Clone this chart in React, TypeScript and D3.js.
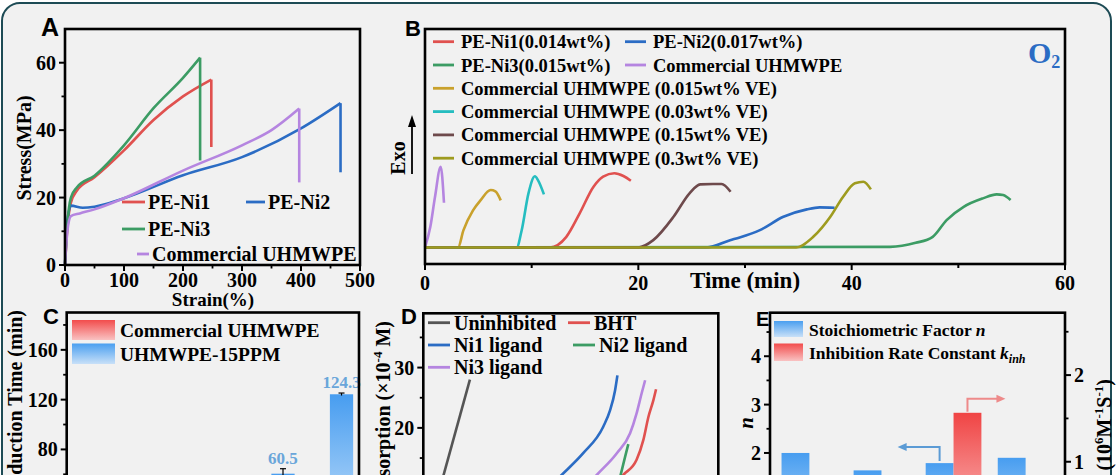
import * as d3 from "d3";

const SERIF = '"Liberation Serif", "Times New Roman", serif';
const SANS = '"Liberation Sans", Arial, sans-serif';

const RED = "#e0514f";
const BLUE = "#2b6cc4";
const GREEN = "#3c9c64";
const PURPLE = "#b585e0";
const GOLD = "#c9a12c";
const CYAN = "#25bdc0";
const BROWN = "#6e4a4c";
const OLIVE = "#9e9b1f";
const GRAY = "#555555";

// ---- A: tensile curves, [strain %, stress MPa]; last point = drop after break
const ni1Tensile = [[0, 0], [4, 11], [10, 18.5], [20, 22], [50, 26], [100, 34], [150, 43], [200, 50], [248, 55], [248, 35]];
const ni2Tensile = [[0, 0], [4, 13], [10, 17.6], [30, 17], [50, 17.3], [100, 19.8], [200, 26.6], [300, 32], [400, 40.5], [467, 48], [467, 27.5]];
const ni3Tensile = [[0, 0], [4, 12], [10, 20], [20, 23], [50, 26.5], [100, 35.5], [150, 46.5], [200, 55.5], [229, 61.5], [229, 31]];
const commTensile = [[0, 0], [4, 10], [10, 14.5], [25, 15.3], [50, 16.5], [100, 19.8], [200, 28], [300, 35.5], [350, 40], [397, 46.4], [397, 24.5]];
const tensileSeries = [
  { name: "PE-Ni1", color: RED, pts: ni1Tensile },
  { name: "PE-Ni2", color: BLUE, pts: ni2Tensile },
  { name: "PE-Ni3", color: GREEN, pts: ni3Tensile },
  { name: "Commercial UHMWPE", color: PURPLE, pts: commTensile },
];
const strainTicks = [0, 100, 200, 300, 400, 500];
const stressTicks = [0, 20, 40, 60];

// ---- B: DSC exotherms under O2, [time min, heat flow a.u.]
const ni1Dsc = [[0, 0], [11.7, 0], [13.25, 1.06], [14.5, 3.4], [15.8, 6.06], [16.7, 7.06], [17.75, 7.4], [18.6, 7.13], [19.3, 6.66]];
const ni2Dsc = [[0, 0], [26.4, 0], [28.6, 0.73], [29.5, 1.0], [31.4, 1.73], [33.6, 3.06], [35.8, 3.8], [37, 4.0], [38.4, 3.96]];
const ni3Dsc = [[0, 0], [43.6, 0.06], [46, 0.46], [47.6, 1.06], [48.9, 2.73], [50.5, 4.06], [52.3, 4.9], [53.6, 5.3], [54.2, 5.23], [54.9, 4.73]];
const commDsc = [[0, 0], [0.5, 2.06], [0.94, 5.06], [1.47, 8.06], [1.78, 4.46]];
const ve015Dsc = [[0, 0], [3.1, 0], [3.6, 1.7], [4.5, 3.7], [5.2, 4.7], [6.16, 5.73], [6.6, 5.6], [7.1, 4.7]];
const ve03Dsc = [[0, 0], [8.6, 0], [9.06, 1.7], [9.7, 5.4], [10.3, 7.1], [10.6, 6.7], [11.15, 5.3]];
const ve15Dsc = [[0, 0], [20, 0], [21.4, 0.73], [23.3, 3.06], [24.8, 5.4], [25.8, 6.3], [27, 6.33], [27.8, 6.33], [28.65, 5.56]];
const ve3Dsc = [[0, 0], [34.8, 0], [36.4, 1.06], [38, 3.06], [39.2, 5.06], [40.3, 6.4], [41.1, 6.56], [41.8, 5.8]];
const dscSeries = [
  { name: "PE-Ni1(0.014wt%)", color: RED, pts: ni1Dsc },
  { name: "PE-Ni2(0.017wt%)", color: BLUE, pts: ni2Dsc },
  { name: "PE-Ni3(0.015wt%)", color: GREEN, pts: ni3Dsc },
  { name: "Commercial UHMWPE", color: PURPLE, pts: commDsc },
  { name: "Commercial UHMWPE (0.015wt% VE)", color: GOLD, pts: ve015Dsc },
  { name: "Commercial UHMWPE (0.03wt% VE)", color: CYAN, pts: ve03Dsc },
  { name: "Commercial UHMWPE (0.15wt% VE)", color: BROWN, pts: ve15Dsc },
  { name: "Commercial UHMWPE (0.3wt% VE)", color: OLIVE, pts: ve3Dsc },
];
const timeTicks = [0, 10, 20, 30, 40, 50, 60];
const timeLabels = [0, 20, 40, 60];

// ---- C: induction time bars (group labels fall below the crop)
const cGroups = ["g1", "g2", "g3", "g4", "g5"];
const cBlueValues = [null, null, null, 60.5, 124.3];
const cBlueErrors = [0, 0, 0, 4, 1];
const cTicks = [0, 40, 80, 120, 160];

// ---- D: oxygen uptake curves [time a.u., absorption x1e-4 M]
const uninhibited = [[0, 0], [15.8, 28]];
const bht = [[65.7, 11], [67.8, 12.2], [72.3, 14.7], [74.6, 18], [76.3, 21.8], [78, 24.6], [78.9, 26.4]];
const ni1Ligand = [[44.4, 11], [46.9, 12.2], [54.2, 15.8], [61, 20.2], [63.3, 22.9], [65, 26.2], [65.8, 28.7]];
const ni2Ligand = [[66.3, 11], [66.9, 12.2], [68.4, 15.2], [69.5, 17.3]];
const ni3Ligand = [[56.5, 11], [58.8, 12.2], [65.6, 15.8], [70.1, 19.1], [72.3, 22.4], [74, 25.7], [75.2, 27.9]];
const uptakeSeries = [
  { name: "Uninhibited", color: GRAY, pts: uninhibited },
  { name: "BHT", color: RED, pts: bht },
  { name: "Ni1 ligand", color: BLUE, pts: ni1Ligand },
  { name: "Ni2 ligand", color: GREEN, pts: ni2Ligand },
  { name: "Ni3 ligand", color: PURPLE, pts: ni3Ligand },
];
const dTicks = [0, 10, 20, 30];

// ---- E: stoichiometric factor n (left) and k_inh (right)
const eGroups = ["BHT", "Ni1 ligand", "Ni2 ligand", "Ni3 ligand"];
const nValues = [2.0, 1.64, 1.79, 1.9];
const kValues = [null, null, 1.565, null];
const nTicks = [0, 1, 2, 3, 4];
const kTicks = [0, 1, 2];

const lineGen = d3.line().curve(d3.curveMonotoneX);
const straight = d3.line();

function YAxis({ scale, x, ticks, minor, side = "left", size = 20 }) {
  const dir = side === "left" ? -1 : 1;
  return (
    <g>
      {minor.map((v) => (
        <line key={"m" + v} x1={x} x2={x + dir * 3.5} y1={scale(v)} y2={scale(v)} stroke="#000" strokeWidth={1.8} />
      ))}
      {ticks.map((v) => (
        <g key={v}>
          <line x1={x} x2={x + dir * 6} y1={scale(v)} y2={scale(v)} stroke="#000" strokeWidth={2} />
          <text
            x={x + dir * 9}
            y={scale(v)}
            dy="0.35em"
            textAnchor={side === "left" ? "end" : "start"}
            fontFamily={SERIF}
            fontWeight="bold"
            fontSize={size}
          >
            {v}
          </text>
        </g>
      ))}
    </g>
  );
}

function Frame({ x0, x1, y0, y1 }) {
  return <rect x={x0} y={y0} width={x1 - x0} height={y1 - y0} fill="none" stroke="#000" strokeWidth={2.6} />;
}

function PanelLetter({ x, y, size = 22, children }) {
  return (
    <text x={x} y={y} fontFamily={SANS} fontWeight="bold" fontSize={size}>
      {children}
    </text>
  );
}

export default function App() {
  // A scales
  const ax = d3.scaleLinear().domain([0, 500]).range([65, 360]);
  const ay = d3.scaleLinear().domain([0, 70]).range([265, 29]);
  // B scales
  const bx = d3.scaleLinear().domain([0, 60]).range([425, 1065]);
  const by = d3.scaleLinear().domain([-1.65, 21.8]).range([264, 29]);
  // C scales
  const cx = d3.scaleBand().domain(cGroups).range([66.7, 359]).paddingInner(0.205).paddingOuter(0.1);
  const cy = d3.scaleLinear().domain([0, 190]).range([549, 312.5]);
  // D scales
  const dx = d3.scaleLinear().domain([0, 100]).range([423.3, 718.3]);
  const dy = d3.scaleLinear().domain([0, 39]).range([548.5, 313.3]);
  // E scales
  const ex = d3.scaleBand().domain(eGroups).range([770, 1065]).paddingInner(0.227).paddingOuter(0.16);
  const eyL = d3.scaleLinear().domain([0, 4.9]).range([549.7, 312.7]);
  const eyR = d3.scaleLinear().domain([0, 2.72]).range([548.4, 312.7]);

  const lbl = { fontFamily: SERIF, fontWeight: "bold" } as const;
  const cw = cx.bandwidth() / 2;
  const ew = ex.bandwidth() / 2;

  // E annotation arrows start from the top of the bar they point from
  const nArrowX = ex(eGroups[2]) + ew / 2;
  const nArrowY = eyL(nValues[2]);
  const kArrowX = ex(eGroups[2]) + ew * 1.5;
  const kArrowY = eyR(kValues[2]);

  return (
    <svg width={1119} height={475} style={{ position: "absolute", left: 0, top: 0, background: "#fff" }}>
      <defs>
        <linearGradient id="barBlue" x1="0" y1="0" x2="0" y2="1">
          <stop offset="0" stopColor="#479df0" />
          <stop offset="1" stopColor="#d4e8fb" />
        </linearGradient>
        <linearGradient id="barRed" x1="0" y1="0" x2="0" y2="1">
          <stop offset="0" stopColor="#f04444" />
          <stop offset="1" stopColor="#fcd6d6" />
        </linearGradient>
        <linearGradient id="swBlue" x1="0" y1="0" x2="0" y2="1">
          <stop offset="0" stopColor="#4a9ff0" />
          <stop offset="1" stopColor="#c8e0f8" />
        </linearGradient>
        <linearGradient id="swRed" x1="0" y1="0" x2="0" y2="1">
          <stop offset="0" stopColor="#f24c4c" />
          <stop offset="1" stopColor="#f9c2c2" />
        </linearGradient>
      </defs>

      <rect x={2} y={3} width={1109} height={540} rx={18} fill="#f1f1f1" stroke="#1d4b55" strokeWidth={2} />

      {/* ================= A ================= */}
      <PanelLetter x={41} y={36} size={25}>A</PanelLetter>
      {tensileSeries.map((s) => (
        <g key={s.name} fill="none" stroke={s.color} strokeWidth={2.6}>
          <path d={lineGen(s.pts.slice(0, -1).map(([u, v]) => [ax(u), ay(v)]))} />
          <path d={straight(s.pts.slice(-2).map(([u, v]) => [ax(u), ay(v)]))} />
        </g>
      ))}
      {[
        { s: tensileSeries[0], x: 122, x2: 145, y: 202 },
        { s: tensileSeries[1], x: 246, x2: 265, y: 202 },
        { s: tensileSeries[2], x: 122, x2: 145, y: 229 },
        { s: tensileSeries[3], x: 137, x2: 149, y: 254 },
      ].map(({ s, x, x2, y }) => (
        <g key={s.name}>
          <line x1={x} x2={x2} y1={y} y2={y} stroke={s.color} strokeWidth={2.8} />
          <text x={x2 + 3} y={y + 7} {...lbl} fontSize={20}>
            {s.name}
          </text>
        </g>
      ))}
      <Frame x0={65} x1={360} y0={29} y1={265} />
      {d3.range(50, 500, 100).map((v) => (
        <line key={v} x1={ax(v)} x2={ax(v)} y1={265} y2={268.5} stroke="#000" strokeWidth={1.8} />
      ))}
      {strainTicks.map((v) => (
        <g key={v}>
          <line x1={ax(v)} x2={ax(v)} y1={265} y2={271} stroke="#000" strokeWidth={2} />
          <text x={ax(v)} y={287} textAnchor="middle" {...lbl} fontSize={20}>
            {v}
          </text>
        </g>
      ))}
      <YAxis scale={ay} x={65} ticks={stressTicks} minor={[10, 30, 50]} />
      <text x={213} y={306} textAnchor="middle" {...lbl} fontSize={19}>
        Strain(%)
      </text>
      <text transform="translate(31,148) rotate(-90)" textAnchor="middle" {...lbl} fontSize={20}>
        Stress(MPa)
      </text>

      {/* ================= B ================= */}
      <PanelLetter x={405} y={36}>B</PanelLetter>
      {dscSeries.map((s) => (
        <path
          key={s.name}
          d={lineGen(s.pts.map(([u, v]) => [bx(u), by(v)]))}
          fill="none"
          stroke={s.color}
          strokeWidth={2.6}
        />
      ))}
      {dscSeries.map((s, i) => {
        const col = i < 4 ? i % 2 : 0;
        const row = i < 4 ? Math.floor(i / 2) : i - 2;
        const x = col === 0 ? 433 : 625;
        const y = 41.7 + row * 23.3;
        return (
          <g key={s.name}>
            <line x1={x} x2={x + 21} y1={y} y2={y} stroke={s.color} strokeWidth={2.8} />
            <text x={x + 28} y={y + 6.5} {...lbl} fontSize={18.5}>
              {s.name}
            </text>
          </g>
        );
      })}
      <text x={1028} y={63} {...lbl} fontSize={30} fill={BLUE}>
        O
        <tspan fontSize={18} dy={5}>
          2
        </tspan>
      </text>
      <text transform="translate(405,158) rotate(-90)" textAnchor="middle" {...lbl} fontSize={20}>
        Exo
      </text>
      <line x1={412} x2={412} y1={174} y2={125} stroke="#000" strokeWidth={1.8} />
      <path d="M412,115 L408,127 L416,127 Z" fill="#000" />
      <Frame x0={425} x1={1065} y0={29} y1={264} />
      {timeTicks.map((v) => (
        <line
          key={v}
          x1={bx(v)}
          x2={bx(v)}
          y1={264}
          y2={v % 20 === 0 ? 270 : 268}
          stroke="#000"
          strokeWidth={2}
        />
      ))}
      {timeLabels.map((v) => (
        <text key={v} x={bx(v)} y={290} textAnchor="middle" {...lbl} fontSize={20}>
          {v}
        </text>
      ))}
      <text x={bx(30)} y={287.5} textAnchor="middle" {...lbl} fontSize={23}>
        Time (min)
      </text>

      {/* ================= C ================= */}
      <PanelLetter x={43} y={324}>C</PanelLetter>
      {cGroups.map((g, i) =>
        cBlueValues[i] == null ? null : (
          <g key={g}>
            <rect
              x={cx(g) + cw}
              y={cy(cBlueValues[i])}
              width={cw}
              height={cy(0) - cy(cBlueValues[i])}
              fill="url(#barBlue)"
            />
            <line
              x1={cx(g) + cw * 1.5}
              x2={cx(g) + cw * 1.5}
              y1={cy(cBlueValues[i] - cBlueErrors[i])}
              y2={cy(cBlueValues[i] + cBlueErrors[i])}
              stroke="#000"
              strokeWidth={1.2}
            />
            <line
              x1={cx(g) + cw * 1.5 - 3}
              x2={cx(g) + cw * 1.5 + 3}
              y1={cy(cBlueValues[i] + cBlueErrors[i])}
              y2={cy(cBlueValues[i] + cBlueErrors[i])}
              stroke="#000"
              strokeWidth={1.2}
            />
            <text
              x={cx(g) + cw * 1.5}
              y={cy(cBlueValues[i] + cBlueErrors[i]) - 5}
              textAnchor="middle"
              {...lbl}
              fontSize={17}
              fill="#6aa6da"
            >
              {cBlueValues[i]}
            </text>
          </g>
        )
      )}
      <rect x={72} y={320} width={43} height={20} fill="url(#swRed)" />
      <rect x={72} y={343.5} width={43} height={20.5} fill="url(#swBlue)" />
      <text x={120} y={337} {...lbl} fontSize={19.5}>
        Commercial UHMWPE
      </text>
      <text x={120} y={361} {...lbl} fontSize={19.5}>
        UHMWPE-15PPM
      </text>
      <Frame x0={66.7} x1={359} y0={312.5} y1={549} />
      <YAxis scale={cy} x={66.7} ticks={cTicks} minor={[20, 60, 100, 140, 180]} />
      <text transform="translate(22,310) rotate(-90)" textAnchor="end" {...lbl} fontSize={20}>
        Induction Time (min)
      </text>

      {/* ================= D ================= */}
      <PanelLetter x={401} y={324}>D</PanelLetter>
      {uptakeSeries.map((s) => (
        <path
          key={s.name}
          d={lineGen(s.pts.map(([u, v]) => [dx(u), dy(v)]))}
          fill="none"
          stroke={s.color}
          strokeWidth={2.6}
        />
      ))}
      {uptakeSeries.map((s, i) => {
        const col = i === 0 || i === 2 || i === 4 ? 0 : 1;
        const row = [0, 0, 1, 1, 2][i];
        const x = col === 0 ? 428 : i === 1 ? 568 : 573;
        const y = 322.7 + row * 22.3;
        return (
          <g key={s.name}>
            <line x1={x} x2={x + 22} y1={y} y2={y} stroke={s.color} strokeWidth={2.8} />
            <text x={x + 26} y={y + 7} {...lbl} fontSize={20}>
              {s.name}
            </text>
          </g>
        );
      })}
      <Frame x0={423.3} x1={718.3} y0={313.3} y1={548.5} />
      <YAxis scale={dy} x={423.3} ticks={dTicks} minor={[5, 15, 25, 35]} />
      <text transform="translate(390,321) rotate(-90)" textAnchor="end" {...lbl} fontSize={20}>
        Oxygen Absorption (×10
        <tspan fontSize={13} dy={-8}>
          -4
        </tspan>
        <tspan dy={8}> M)</tspan>
      </text>

      {/* ================= E ================= */}
      <PanelLetter x={756} y={326} size={20}>E</PanelLetter>
      {eGroups.map((g, i) => (
        <g key={g}>
          <rect x={ex(g)} y={eyL(nValues[i])} width={ew} height={eyL(0) - eyL(nValues[i])} fill="url(#barBlue)" />
          {kValues[i] != null && (
            <rect
              x={ex(g) + ew}
              y={eyR(kValues[i])}
              width={ew}
              height={eyR(0) - eyR(kValues[i])}
              fill="url(#barRed)"
            />
          )}
        </g>
      ))}
      <g fill="none" stroke="#5b9bd5" strokeWidth={2}>
        <path d={`M${nArrowX},${nArrowY - 2} V${nArrowY - 16} H${nArrowX - 34}`} />
      </g>
      <path d={`M${nArrowX - 42},${nArrowY - 16} l9,-4 v8 Z`} fill="#5b9bd5" />
      <g fill="none" stroke="#ee8a8a" strokeWidth={2}>
        <path d={`M${kArrowX},${kArrowY - 1} V${kArrowY - 14} H${kArrowX + 30}`} />
      </g>
      <path d={`M${kArrowX + 38},${kArrowY - 14} l-9,-4 v8 Z`} fill="#ee8a8a" />
      <rect x={774} y={321} width={29} height={16} fill="url(#swBlue)" />
      <rect x={774} y={343.5} width={29} height={17.5} fill="url(#swRed)" />
      <text x={809} y={336} {...lbl} fontSize={17.5}>
        Stoichiometric Factor <tspan fontStyle="italic">n</tspan>
      </text>
      <text x={809} y={358.5} {...lbl} fontSize={17.5}>
        Inhibition Rate Constant <tspan fontStyle="italic">k</tspan>
        <tspan fontStyle="italic" fontSize={12} dy={4}>
          inh
        </tspan>
      </text>
      <Frame x0={770} x1={1065} y0={312.7} y1={549.7} />
      <YAxis scale={eyL} x={770} ticks={nTicks} minor={[0.5, 1.5, 2.5, 3.5, 4.5]} />
      <YAxis scale={eyR} x={1065} ticks={kTicks} minor={[0.5, 1.5, 2.5]} side="right" />
      <text transform="translate(753,423) rotate(-90)" textAnchor="middle" {...lbl} fontStyle="italic" fontSize={21}>
        n
      </text>
      <text transform="translate(1111,379) rotate(-90)" textAnchor="end" {...lbl} fontSize={20}>
        <tspan fontStyle="italic">k</tspan>
        <tspan fontStyle="italic" fontSize={13} dy={4}>
          inh
        </tspan>
        <tspan dy={-4}> (10</tspan>
        <tspan fontSize={13} dy={-8}>
          6
        </tspan>
        <tspan dy={8}>M</tspan>
        <tspan fontSize={13} dy={-8}>
          -1
        </tspan>
        <tspan dy={8}>S</tspan>
        <tspan fontSize={13} dy={-8}>
          -1
        </tspan>
        <tspan dy={8}>)</tspan>
      </text>
    </svg>
  );
}
